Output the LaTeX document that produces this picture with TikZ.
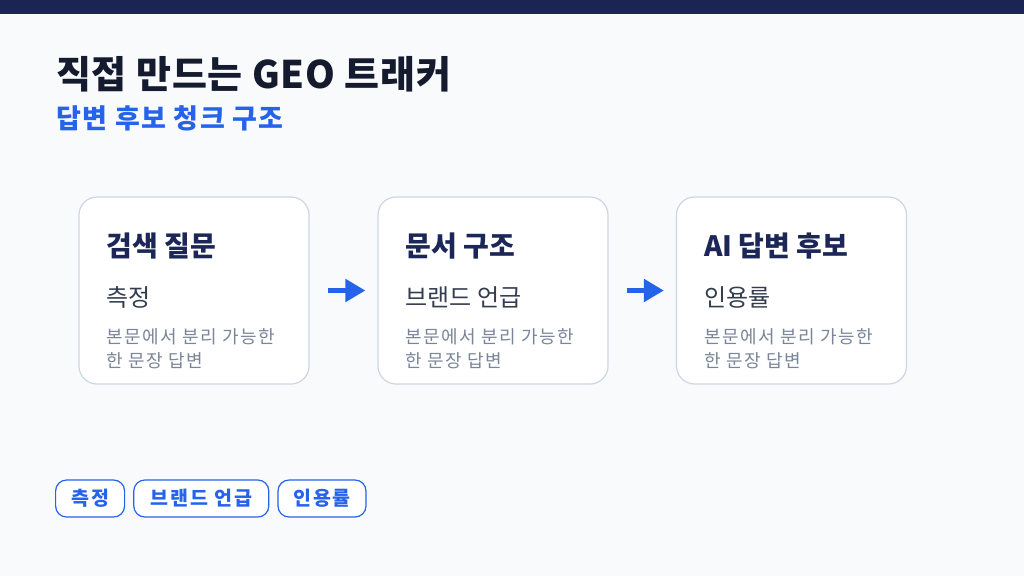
\documentclass[tikz,border=0pt]{standalone}
\usepackage{fontspec}
\setmainfont{Noto Sans CJK KR}
\usetikzlibrary{positioning,arrows.meta}

\definecolor{topbar}{HTML}{1B2551}
\definecolor{pagebg}{HTML}{F8FAFC}
\definecolor{ink}{HTML}{151B2E}
\definecolor{accent}{HTML}{2563EB}
\definecolor{cardline}{HTML}{CDD6E4}
\definecolor{cardnavy}{HTML}{1C2757}
\definecolor{subink}{HTML}{333D4F}
\definecolor{descink}{HTML}{7A8599}

\begin{document}
\begin{tikzpicture}[x=1pt,y=-1pt,
    card/.style={draw=cardline, line width=1.2pt, fill=white, rounded corners=18pt,
        minimum width=230pt, minimum height=187pt},
    cardtitle/.style={anchor=west, inner sep=0pt, text=cardnavy,
        font=\fontsize{28}{32}\selectfont\bfseries},
    cardsub/.style={anchor=west, inner sep=0pt, text=subink,
        font=\fontsize{24}{28}\selectfont},
    carddesc/.style={anchor=west, inner sep=0pt, text=descink, align=left,
        font=\fontsize{18}{24}\selectfont\addfontfeature{LetterSpace=8}},
    flow/.style={-{Triangle[length=20pt,width=22pt]}, line width=5.5pt, draw=accent,
        shorten <=18pt, shorten >=12pt},
    tag/.style={draw=accent, line width=1.2pt, rounded corners=11pt, fill=white,
        minimum height=37pt, inner xsep=0pt, text=accent,
        font=\fontsize{19.5}{22}\selectfont\bfseries\addfontfeature{LetterSpace=10}}
]
    % Page
    \useasboundingbox (0,0) rectangle (1024,576);
    \fill[pagebg] (0,0) rectangle (1024,576);
    \fill[topbar] (0,0) rectangle (1024,14);

    % Title
    \node[anchor=west, inner sep=0pt, text=ink, font=\fontsize{38}{44}\selectfont\bfseries\addfontfeature{LetterSpace=2}]
        (title) at (56,74) {직접 만드는 GEO 트래커};
    \node[anchor=west, inner sep=0pt, text=accent, font=\fontsize{27}{32}\selectfont\bfseries\addfontfeature{LetterSpace=5.5}]
        (subtitle) at (56,118) {답변 후보 청크 구조};

    % Cards
    \foreach \i/\x/\head/\sub in {1/194/검색 질문/측정, 2/493/문서 구조/브랜드 언급, 3/791.5/AI 답변 후보/인용률} {
        \node[card] (c\i) at (\x,290.5) {};
        \node[cardtitle] (h\i) at ([shift={(28pt,-50pt)}]c\i.north west) {\head};
        \node[cardsub] (s\i) at ([shift={(28pt,-101pt)}]c\i.north west) {\sub};
        \node[carddesc] (d\i) at ([shift={(28pt,-152pt)}]c\i.north west) {본문에서 분리 가능한\\한 문장 답변};
    }

    % Arrows
    \draw[flow] (c1.east) -- (c2.west);
    \draw[flow] (c2.east) -- (c3.west);

    % Tags
    \node[tag, minimum width=69pt, anchor=west] (m1) at (55,498.5) {측정};
    \node[tag, minimum width=135pt, right=8pt of m1] (m2) {브랜드 언급};
    \node[tag, minimum width=88pt, right=8pt of m2] (m3) {인용률};
\end{tikzpicture}
\end{document}
